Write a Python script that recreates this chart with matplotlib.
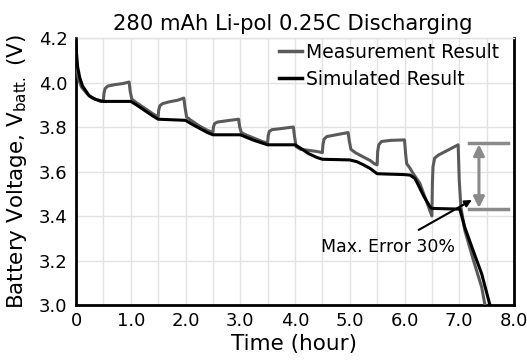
import matplotlib
matplotlib.use("Agg")
import matplotlib.pyplot as plt
from matplotlib.lines import Line2D

plt.rcParams['font.family'] = ['DejaVu Sans']
plt.rcParams['mathtext.fontset'] = 'dejavusans'

# ---------------- data ----------------
meas_t = [0, 0.01, 0.04, 0.1, 0.2, 0.3, 0.45, 0.5,
          0.51, 0.53, 0.58, 0.7, 0.85, 0.97, 0.99, 1.02, 1.1, 1.25, 1.4, 1.5,
          1.51, 1.53, 1.58, 1.7, 1.85, 1.97, 1.99, 2.02, 2.1, 2.25, 2.4, 2.5,
          2.51, 2.53, 2.58, 2.75, 2.97, 2.99, 3.02, 3.1, 3.25, 3.4, 3.5,
          3.51, 3.53, 3.58, 3.75, 3.97, 3.99, 4.02, 4.1, 4.25, 4.4, 4.5,
          4.51, 4.53, 4.58, 4.75, 4.97, 4.99, 5.02, 5.1, 5.25, 5.37, 5.45, 5.5,
          5.51, 5.53, 5.58, 5.75, 6.0, 6.02, 6.04, 6.1, 6.16, 6.28, 6.44, 6.5,
          6.51, 6.52, 6.55, 6.62, 6.77, 6.98, 7.0, 7.03, 7.1, 7.26, 7.41, 7.47]
meas_v = [4.2, 4.08, 4.02, 3.98, 3.95, 3.93, 3.915, 3.915,
          3.95, 3.972, 3.984, 3.99, 3.995, 4.002, 3.96, 3.925, 3.91, 3.885, 3.86, 3.845,
          3.875, 3.895, 3.905, 3.913, 3.92, 3.93, 3.89, 3.845, 3.83, 3.805, 3.785, 3.775,
          3.80, 3.815, 3.822, 3.828, 3.835, 3.80, 3.775, 3.765, 3.75, 3.735, 3.728,
          3.76, 3.78, 3.788, 3.793, 3.80, 3.76, 3.712, 3.70, 3.695, 3.69, 3.685,
          3.72, 3.745, 3.757, 3.765, 3.775, 3.74, 3.70, 3.685, 3.665, 3.65, 3.635, 3.63,
          3.69, 3.72, 3.735, 3.74, 3.742, 3.68, 3.635, 3.615, 3.59, 3.547, 3.44, 3.40,
          3.55, 3.62, 3.66, 3.674, 3.693, 3.72, 3.56, 3.44, 3.337, 3.20, 3.08, 3.0]

sim_t = [0, 0.01, 0.03, 0.07, 0.12, 0.24, 0.35, 0.46, 0.5,
         1.0, 1.1, 1.25, 1.4, 1.5,
         2.0, 2.1, 2.25, 2.4, 2.5,
         3.0, 3.1, 3.25, 3.4, 3.5,
         4.0, 4.1, 4.25, 4.4, 4.5,
         5.0, 5.13, 5.25, 5.37, 5.5,
         6.0, 6.1, 6.19, 6.25, 6.35, 6.47, 6.5,
         7.01, 7.1, 7.25, 7.41, 7.56]
sim_v = [4.2, 4.13, 4.07, 4.02, 3.984, 3.94, 3.925, 3.917, 3.915,
         3.915, 3.90, 3.875, 3.85, 3.835,
         3.83, 3.815, 3.795, 3.775, 3.765,
         3.765, 3.755, 3.74, 3.728, 3.72,
         3.72, 3.705, 3.68, 3.663, 3.655,
         3.652, 3.644, 3.63, 3.614, 3.59,
         3.586, 3.584, 3.569, 3.54, 3.49, 3.44, 3.434,
         3.431, 3.35, 3.247, 3.14, 3.0]

x_ticks = [0, 1, 2, 3, 4, 5, 6, 7, 8]
x_ticklabels = ['0', '1.0', '2.0', '3.0', '4.0', '5.0', '6.0', '7.0', '8.0']
y_ticks = [3.0, 3.2, 3.4, 3.6, 3.8, 4.0, 4.2]
y_ticklabels = ['3.0', '3.2', '3.4', '3.6', '3.8', '4.0', '4.2']

err_top = 3.727
err_bot = 3.431
err_x0, err_x1, err_xm = 7.17, 7.89, 7.36
ann_xy = (7.23, 3.472)
ann_text_xy = (5.70, 3.26)

title = '280 mAh Li-pol 0.25C Discharging'
series_names = ['Measurement Result', 'Simulated Result']

# ---------------- figure ----------------
fig = plt.figure(figsize=(5.27, 3.60), dpi=100)
ax = fig.add_axes([76/527, 1-305/360, 438/527, 267/360])

gray = '#5a5a5a'
ax.plot(meas_t, meas_v, color=gray, lw=2.2, solid_joinstyle='round', zorder=3)
ax.plot(sim_t, sim_v, color='black', lw=2.2, solid_joinstyle='round', zorder=4)

ax.set_xlim(0, 8)
ax.set_ylim(3.0, 4.2)
ax.set_xticks(x_ticks)
ax.set_xticklabels(x_ticklabels)
ax.set_yticks(y_ticks)
ax.set_yticklabels(y_ticklabels)
ax.set_xticks([i + 0.5 for i in range(8)], minor=True)
ax.grid(True, which='both', axis='x', color='#e2e2e2', lw=1)
ax.grid(True, which='major', axis='y', color='#e2e2e2', lw=1)
ax.set_axisbelow(True)
ax.tick_params(which='both', length=0, labelsize=13)
ax.tick_params(axis='y', pad=6)
ax.tick_params(axis='x', pad=5)

for s in ['left', 'bottom', 'right']:
    ax.spines[s].set_color('black')
    ax.spines[s].set_linewidth(2.0)
ax.spines['top'].set_color('#e2e2e2')
ax.spines['top'].set_linewidth(1)

# error bar marker
ecol = '#8a8a8a'
ax.plot([err_x0, err_x1], [err_top, err_top], color=ecol, lw=2.5, zorder=2)
ax.plot([err_x0, err_x1], [err_bot, err_bot], color=ecol, lw=2.5, zorder=2)
ax.annotate('', xy=(err_xm, err_top - 0.005), xytext=(err_xm, err_bot + 0.005),
            arrowprops=dict(arrowstyle='<|-|>', color=ecol, lw=2.2,
                            mutation_scale=16, shrinkA=0, shrinkB=0))

ax.annotate('Max. Error 30%', xy=ann_xy, xytext=ann_text_xy,
            ha='center', va='center', fontsize=12.5,
            arrowprops=dict(arrowstyle='-|>', color='black', lw=1.5,
                            mutation_scale=10, shrinkA=8, shrinkB=0))

# legend
handles = [Line2D([], [], color=gray, lw=2.5), Line2D([], [], color='black', lw=2.5)]
fig.legend(handles, series_names, loc='upper left',
           bbox_to_anchor=(279/527, 1-43/360), frameon=False, fontsize=13.5,
           handlelength=1.25, handletextpad=0.2, labelspacing=0.42,
           borderpad=0, borderaxespad=0)

fig.text(292.5/527, 1-30/360, title, ha='center', va='baseline', fontsize=15.2)
ax.set_xlabel('Time (hour)', fontsize=15.5, va='top')
ax.xaxis.set_label_coords(0.497, -0.108)
ax.set_ylabel(r'Battery Voltage, V$_{\mathregular{batt.}}$ (V)', fontsize=15.5, va='center')
ax.yaxis.set_label_coords(-0.135, 0.5)

fig.savefig('out.png', dpi=100)
